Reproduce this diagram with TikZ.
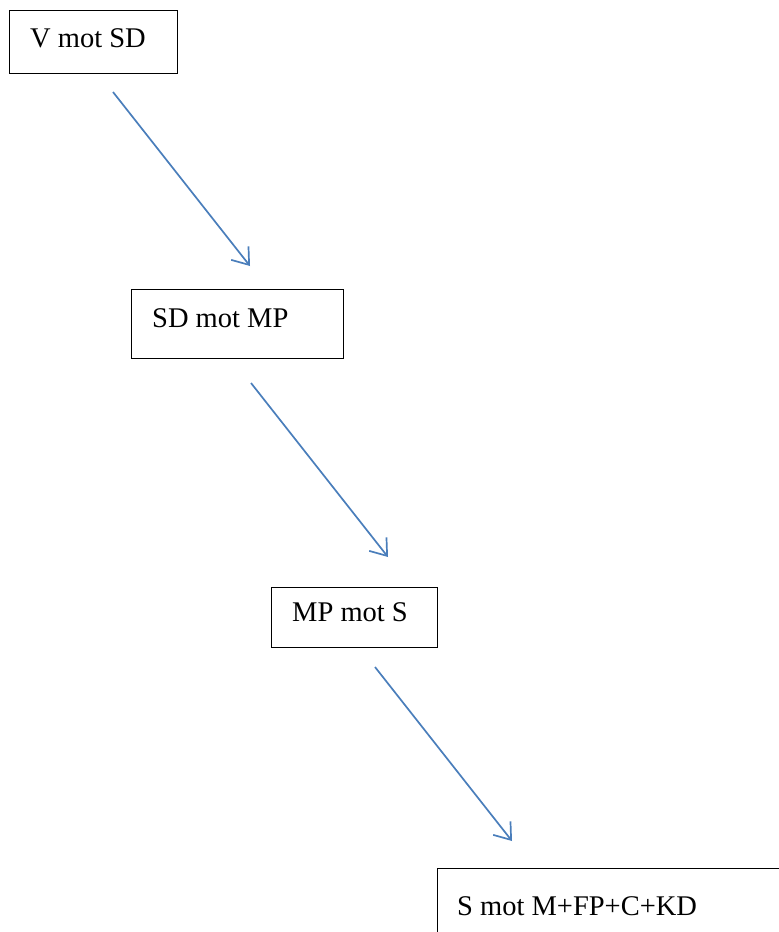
\documentclass[tikz,border=0pt]{standalone}
\usepackage{fontspec}
\setmainfont{Liberation Serif}
\usetikzlibrary{arrows.meta}
\definecolor{arrowblue}{HTML}{4A7EBB}
\begin{document}
\begin{tikzpicture}[x=1pt,y=-1pt,
  box/.style={draw=black,line width=1pt,inner sep=0pt,anchor=north west},
  lbl/.style={anchor=base west,inner sep=0pt,font=\fontsize{28.5}{32}\selectfont},
  flow/.style={draw=arrowblue,line width=1.7pt,-{Straight Barb[length=15pt,width=22pt,line width=1.7pt]}}]
\path[use as bounding box] (0,0) rectangle (779,932);
\clip (0,0) rectangle (779,932);
\node[box,minimum width=168pt,minimum height=63pt] (b1) at (9,10) {};
\node[box,minimum width=212pt,minimum height=69pt] (b2) at (131,289) {};
\node[box,minimum width=166pt,minimum height=60pt] (b3) at (271,587) {};
\node[box,minimum width=400pt,minimum height=100pt] (b4) at (437,868) {};
\node[lbl] (t1) at (30,47) {V mot SD};
\node[lbl] (t2) at (152,327) {SD mot MP};
\node[lbl] (t3) at (292,621) {MP mot S};
\node[lbl] (t4) at (457,915) {S mot M+FP+C+KD};
\coordinate (a1s) at (113,92); \coordinate (a1e) at (250,266);
\coordinate (a2s) at (251,383); \coordinate (a2e) at (388,557);
\coordinate (a3s) at (375,667); \coordinate (a3e) at (512,841);
\draw[flow] (a1s) -- (a1e);
\draw[flow] (a2s) -- (a2e);
\draw[flow] (a3s) -- (a3e);
\end{tikzpicture}
\end{document}
